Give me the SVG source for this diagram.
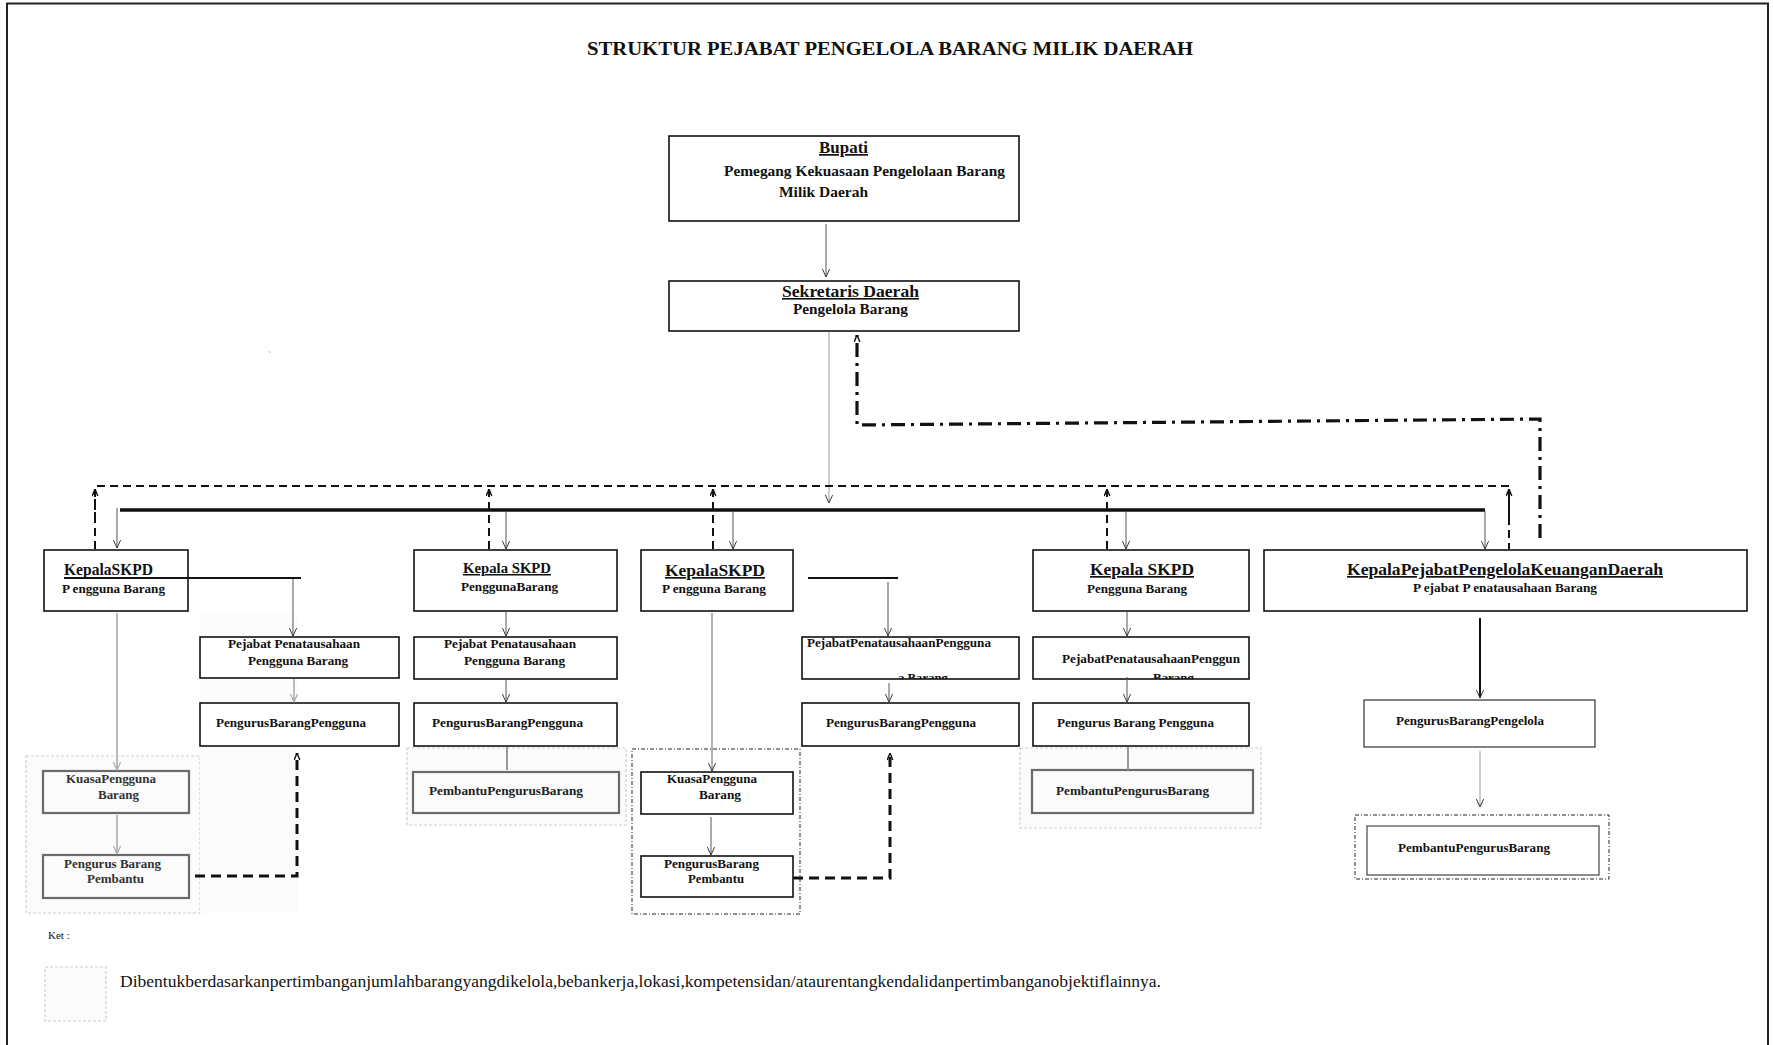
<svg xmlns="http://www.w3.org/2000/svg" width="1773" height="1045" viewBox="0 0 1773 1045">
<style>
text{font-family:"Liberation Serif","Times New Roman",serif;font-weight:bold;fill:#111}
.box{fill:#fff;stroke:#111;stroke-width:1.6}
.gbox{fill:none;stroke:#6a6a6a;stroke-width:2.2}
.fade{fill:#fbfbfb;stroke:#cfcfcf;stroke-width:1.2;stroke-dasharray:3 2}
.dd{fill:none;stroke:#222;stroke-width:1;stroke-dasharray:4 2 1 2}
.t13{font-size:13px}
.t14{font-size:14px}
.t17{font-size:17px}
.u{text-decoration:underline}
.ln{stroke:#555;stroke-width:1;fill:none}
.lg{stroke:#bbb;stroke-width:2;fill:none}
.dash{stroke:#111;stroke-width:2;stroke-dasharray:8 5;fill:none}
.tdash{stroke:#111;stroke-width:3;stroke-dasharray:10 6;fill:none}
.ddot{stroke:#111;stroke-width:3.2;stroke-dasharray:14 6 3 6;fill:none}
</style>
<defs>
<marker id="v" viewBox="0 0 10 10" refX="10" refY="5" markerWidth="9" markerHeight="8" markerUnits="userSpaceOnUse" orient="auto">
<path d="M0,0.5 L10,5 L0,9.5" fill="none" stroke="#333" stroke-width="1.2"/>
</marker>
<marker id="vg" viewBox="0 0 10 10" refX="10" refY="5" markerWidth="9" markerHeight="8" markerUnits="userSpaceOnUse" orient="auto">
<path d="M0,0.5 L10,5 L0,9.5" fill="none" stroke="#aaa" stroke-width="1.5"/>
</marker>
<marker id="up" viewBox="0 0 10 10" refX="10" refY="5" markerWidth="8" markerHeight="7" markerUnits="userSpaceOnUse" orient="auto">
<path d="M0,1 L10,5 L0,9" fill="none" stroke="#111" stroke-width="2"/>
</marker>
<clipPath id="c4"><rect x="802" y="637" width="217" height="42"/></clipPath>
<clipPath id="c5"><rect x="1033" y="637" width="216" height="42"/></clipPath>
</defs>
<rect width="1773" height="1045" fill="#fff"/>
<path d="M7,1045 V3.5 H1768 V1045" fill="none" stroke="#222" stroke-width="2"/>
<text x="587" y="55" style="font-size:18px" textLength="606" lengthAdjust="spacingAndGlyphs">STRUKTUR PEJABAT PENGELOLA BARANG MILIK DAERAH</text>
<text x="268" y="358" style="font-size:9px;font-weight:normal;fill:#777">`</text>

<g id="faded-regions">
<rect class="fade" x="26" y="756" width="174" height="157"/>
<rect x="200" y="613" width="98" height="300" fill="#fcfcfc"/>
<rect class="fade" x="407" y="748" width="219" height="77"/>
<rect class="fade" x="1020" y="748" width="241" height="80"/>
<rect class="dd" x="632" y="749" width="168" height="165"/>
<rect class="dd" x="1355" y="815" width="254" height="64"/>
</g>

<g id="bupati">
<rect class="box" x="669" y="136" width="350" height="85"/>
<text class="u" x="819" y="153" style="font-size:17px" textLength="49" lengthAdjust="spacingAndGlyphs">Bupati</text>
<text class="t14" x="724" y="176" textLength="281" lengthAdjust="spacingAndGlyphs">Pemegang Kekuasaan Pengelolaan Barang</text>
<text class="t14" x="779" y="197" textLength="89" lengthAdjust="spacingAndGlyphs">Milik Daerah</text>
</g>
<g id="sekretaris">
<rect class="box" x="669" y="281" width="350" height="50"/>
<text class="u" x="782" y="297" style="font-size:16px" textLength="137" lengthAdjust="spacingAndGlyphs">Sekretaris Daerah</text>
<text class="t14" x="793" y="314" textLength="115" lengthAdjust="spacingAndGlyphs">Pengelola Barang</text>
</g>

<g id="skpd1">
<rect class="box" x="44" y="550" width="144" height="61"/>
<text class="t17" x="64" y="575" textLength="89" lengthAdjust="spacingAndGlyphs">KepalaSKPD</text>
<text class="t13" x="62" y="593" textLength="103" lengthAdjust="spacingAndGlyphs">P engguna Barang</text>
</g>
<g id="ppk1">
<rect class="box" x="200" y="637" width="199" height="41"/>
<text class="t13" x="228" y="648" textLength="132" lengthAdjust="spacingAndGlyphs">Pejabat Penatausahaan</text>
<text class="t13" x="248" y="665" textLength="100" lengthAdjust="spacingAndGlyphs">Pengguna Barang</text>
</g>
<g id="pbp1">
<rect class="box" x="200" y="703" width="199" height="43"/>
<text class="t13" x="216" y="727" textLength="150" lengthAdjust="spacingAndGlyphs">PengurusBarangPengguna</text>
</g>
<g id="kpb1">
<rect class="gbox" x="43" y="771" width="146" height="42"/>
<text class="t13" x="66" y="783" textLength="90" lengthAdjust="spacingAndGlyphs" style="fill:#333">KuasaPengguna</text>
<text class="t13" x="98" y="799" textLength="41" lengthAdjust="spacingAndGlyphs" style="fill:#333">Barang</text>
</g>
<g id="pbpb1">
<rect class="gbox" x="43" y="855" width="146" height="43"/>
<text class="t13" x="64" y="868" textLength="97" lengthAdjust="spacingAndGlyphs" style="fill:#333">Pengurus Barang</text>
<text class="t13" x="87" y="883" textLength="57" lengthAdjust="spacingAndGlyphs" style="fill:#333">Pembantu</text>
</g>

<g id="skpd2">
<rect class="box" x="414" y="550" width="203" height="61"/>
<text class="u" x="463" y="573" style="font-size:15px" textLength="88" lengthAdjust="spacingAndGlyphs">Kepala SKPD</text>
<text class="t13" x="461" y="591" textLength="97" lengthAdjust="spacingAndGlyphs">PenggunaBarang</text>
</g>
<g id="ppk2">
<rect class="box" x="414" y="637" width="203" height="42"/>
<text class="t13" x="444" y="648" textLength="132" lengthAdjust="spacingAndGlyphs">Pejabat Penatausahaan</text>
<text class="t13" x="464" y="665" textLength="101" lengthAdjust="spacingAndGlyphs">Pengguna Barang</text>
</g>
<g id="pbp2">
<rect class="box" x="414" y="703" width="203" height="43"/>
<text class="t13" x="432" y="727" textLength="151" lengthAdjust="spacingAndGlyphs">PengurusBarangPengguna</text>
</g>
<g id="ppb2">
<rect class="gbox" x="413" y="772" width="206" height="41"/>
<text class="t13" x="429" y="795" textLength="154" lengthAdjust="spacingAndGlyphs" style="fill:#222">PembantuPengurusBarang</text>
</g>

<g id="skpd3">
<rect class="box" x="641" y="550" width="152" height="61"/>
<text class="t17 u" x="665" y="576" textLength="100" lengthAdjust="spacingAndGlyphs">KepalaSKPD</text>
<text class="t13" x="662" y="593" textLength="104" lengthAdjust="spacingAndGlyphs">P engguna Barang</text>
</g>
<g id="kpb3">
<rect class="box" x="641" y="772" width="152" height="42"/>
<text class="t13" x="667" y="783" textLength="90" lengthAdjust="spacingAndGlyphs">KuasaPengguna</text>
<text class="t13" x="699" y="799" textLength="42" lengthAdjust="spacingAndGlyphs">Barang</text>
</g>
<g id="pbpb3">
<rect class="box" x="641" y="856" width="152" height="41"/>
<text class="t13" x="664" y="868" textLength="95" lengthAdjust="spacingAndGlyphs">PengurusBarang</text>
<text class="t13" x="688" y="883" textLength="56" lengthAdjust="spacingAndGlyphs">Pembantu</text>
</g>

<g id="ppk4">
<rect class="box" x="802" y="637" width="217" height="42"/>
<text class="t13" x="807" y="647" textLength="184" lengthAdjust="spacingAndGlyphs">PejabatPenatausahaanPengguna</text>
<text class="t13" x="898" y="682" clip-path="url(#c4)" textLength="50" lengthAdjust="spacingAndGlyphs">a Barang</text>
</g>
<g id="pbp4">
<rect class="box" x="802" y="703" width="217" height="43"/>
<text class="t13" x="826" y="727" textLength="150" lengthAdjust="spacingAndGlyphs">PengurusBarangPengguna</text>
</g>

<g id="skpd5">
<rect class="box" x="1033" y="550" width="216" height="61"/>
<text class="t17 u" x="1090" y="575" textLength="104" lengthAdjust="spacingAndGlyphs">Kepala SKPD</text>
<text class="t13" x="1087" y="593" textLength="100" lengthAdjust="spacingAndGlyphs">Pengguna Barang</text>
</g>
<g id="ppk5">
<rect class="box" x="1033" y="637" width="216" height="42"/>
<text class="t13" x="1062" y="663" textLength="178" lengthAdjust="spacingAndGlyphs">PejabatPenatausahaanPenggun</text>
<text class="t13" x="1153" y="682" clip-path="url(#c5)" textLength="41" lengthAdjust="spacingAndGlyphs">Barang</text>
</g>
<g id="pbp5">
<rect class="box" x="1033" y="703" width="216" height="43"/>
<text class="t13" x="1057" y="727" textLength="157" lengthAdjust="spacingAndGlyphs">Pengurus Barang Pengguna</text>
</g>
<g id="ppb5">
<rect class="gbox" x="1032" y="770" width="221" height="43"/>
<text class="t13" x="1056" y="795" textLength="153" lengthAdjust="spacingAndGlyphs" style="fill:#222">PembantuPengurusBarang</text>
</g>

<g id="kppkd">
<rect class="box" x="1264" y="550" width="483" height="61"/>
<text class="t17 u" x="1347" y="575" textLength="316" lengthAdjust="spacingAndGlyphs">KepalaPejabatPengelolaKeuanganDaerah</text>
<text x="1413" y="592" style="font-size:12.5px" textLength="184" lengthAdjust="spacingAndGlyphs">P ejabat P enatausahaan Barang</text>
</g>
<g id="pbpengelola">
<rect class="box" x="1364" y="700" width="231" height="47" style="stroke:#333;stroke-width:1.2"/>
<text class="t13" x="1396" y="725" textLength="148" lengthAdjust="spacingAndGlyphs">PengurusBarangPengelola</text>
</g>
<g id="ppb6">
<rect class="box" x="1367" y="826" width="232" height="49" style="stroke:#444;stroke-width:1.2"/>
<text class="t13" x="1398" y="852" textLength="152" lengthAdjust="spacingAndGlyphs">PembantuPengurusBarang</text>
</g>

<g id="connectors">
<line class="ln" x1="826" y1="224" x2="826" y2="277" marker-end="url(#v)"/>
<line class="ln" x1="829" y1="332" x2="829" y2="503" style="stroke:#999" marker-end="url(#v)"/>
<line x1="120" y1="510" x2="1485" y2="510" stroke="#111" stroke-width="3.5"/>
<line class="ln" x1="117" y1="508" x2="117" y2="548" marker-end="url(#v)"/>
<line class="ln" x1="506" y1="511" x2="506" y2="549" stroke="#222" marker-end="url(#v)"/>
<line class="ln" x1="733" y1="511" x2="733" y2="549" marker-end="url(#v)"/>
<line class="ln" x1="1126" y1="511" x2="1126" y2="549" marker-end="url(#v)"/>
<line class="ln" x1="1485" y1="511" x2="1485" y2="549" marker-end="url(#v)"/>
<path class="dash" d="M95,549 V486 H1509 V549"/>
<path class="dash" d="M489,549 V489" marker-end="url(#up)"/>
<path class="dash" d="M713,549 V489" marker-end="url(#up)"/>
<path class="dash" d="M1107,549 V489" marker-end="url(#up)"/>
<path class="dash" d="M1509,520 V489" marker-end="url(#up)"/>
<path class="dash" d="M95,520 V489" marker-end="url(#up)"/>
<path class="ddot" d="M1540,538 V419 L857,425 V335" marker-end="url(#up)"/>
<line x1="64" y1="578" x2="301" y2="578" stroke="#111" stroke-width="2"/>
<line class="ln" x1="293" y1="579" x2="293" y2="636" marker-end="url(#v)"/>
<line x1="808" y1="578" x2="898" y2="578" stroke="#111" stroke-width="2"/>
<line class="ln" x1="888" y1="582" x2="888" y2="636" marker-end="url(#v)"/>
<line class="lg" x1="117" y1="613" x2="117" y2="770" marker-end="url(#vg)"/>
<line class="lg" x1="117" y1="815" x2="117" y2="854" marker-end="url(#vg)"/>
<line class="lg" x1="294" y1="679" x2="294" y2="702" marker-end="url(#vg)"/>
<line class="ln" x1="506" y1="612" x2="506" y2="636" stroke="#222" marker-end="url(#v)"/>
<line class="ln" x1="506" y1="680" x2="506" y2="702" stroke="#222" marker-end="url(#v)"/>
<line class="lg" x1="507" y1="747" x2="507" y2="770" style="stroke:#999"/>
<line class="ln" x1="712" y1="613" x2="712" y2="771" style="stroke:#666" marker-end="url(#v)"/>
<line class="ln" x1="711" y1="817" x2="711" y2="855" marker-end="url(#v)"/>
<line class="ln" x1="889" y1="683" x2="889" y2="702" marker-end="url(#v)"/>
<line class="ln" x1="1127" y1="612" x2="1127" y2="636" marker-end="url(#v)"/>
<line class="ln" x1="1127" y1="677" x2="1127" y2="702" stroke="#222" marker-end="url(#v)"/>
<line class="lg" x1="1128" y1="747" x2="1128" y2="770" style="stroke:#999"/>
<line x1="1480" y1="618" x2="1480" y2="698" stroke="#111" stroke-width="2" marker-end="url(#v)"/>
<line class="ln" x1="1480" y1="751" x2="1480" y2="807" style="stroke:#999" marker-end="url(#v)"/>
<path class="tdash" d="M195,876 H297 V753" marker-end="url(#up)"/>
<path class="tdash" d="M793,878 H890 V753" marker-end="url(#up)"/>
</g>

<g id="legend">
<text x="48" y="939" style="font-size:11px;font-weight:normal">Ket :</text>
<rect class="fade" x="45" y="967" width="61" height="54"/>
<text x="120" y="987" style="font-size:16px;font-weight:normal" textLength="1041" lengthAdjust="spacingAndGlyphs">Dibentukberdasarkanpertimbanganjumlahbarangyangdikelola,bebankerja,lokasi,kompetensidan/ataurentangkendalidanpertimbanganobjektiflainnya.</text>
</g>
</svg>
